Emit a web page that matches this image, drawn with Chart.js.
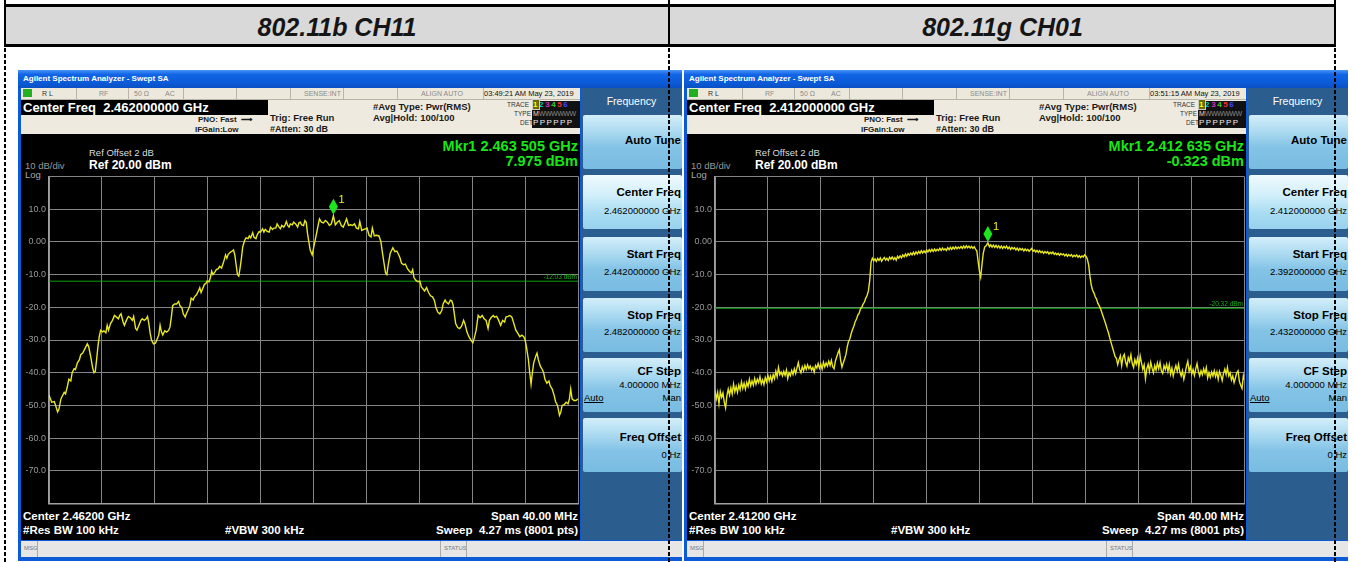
<!DOCTYPE html>
<html>
<head>
<meta charset="utf-8">
<title>802.11b CH11 / 802.11g CH01</title>
<script src="https://cdn.jsdelivr.net/npm/chart.js@4.4.1/dist/chart.umd.min.js"></script>
<style>
  html, body { margin: 0; padding: 0; background: #fff; }
  body { width: 1354px; height: 562px; position: relative; overflow: hidden;
         font-family: "Liberation Sans", Arial, sans-serif; }
  .hdr { position: absolute; top: 4px; height: 37px; background: #d9d9d9;
         border-top: 3px solid #000; border-bottom: 3px solid #000;
         font: italic bold 25px "Liberation Sans", Arial, sans-serif; color: #151515;
         text-align: center; line-height: 40px; }
  .vline { position: absolute; top: 0; width: 2px; height: 562px; z-index: 9;
           background: repeating-linear-gradient(to bottom, #000 0 4px, transparent 4px 6px); }
  .vsolid { position: absolute; top: 4px; width: 2px; height: 43px; background: #000; z-index: 10; }
  .sa { position: absolute; top: 70px; width: 664px; height: 491px; background: #0b5bd8; overflow: hidden; }
  .sa div { position: absolute; white-space: nowrap; }
  .tb { left: 0; top: 0; width: 664px; height: 18px;
        background: linear-gradient(#4a94f6 0%, #1165e6 25%, #0b5bd8 70%, #0a50c4 100%); }
  .tbt { left: 5px; top: 4px; font: bold 8px "Liberation Sans", Arial, sans-serif; color: #fff; }
  .st { left: 3px; top: 18px; width: 559px; height: 11px; background: #ece9dc; border-bottom: 1px solid #b8b4a8; }
  .st div { top: 1px; font-size: 7px; color: #8a8a8a; line-height: 9px; }
  .st .sep { top: 0; width: 1px; height: 11px; background: #b9b5aa; }
  .hd { left: 3px; top: 30px; width: 559px; height: 34px; background: #eeeadf; }
  .hd div { font-weight: bold; color: #1a1a1a; }
  .cf { left: 0; top: 0; width: 245px; height: 15px; background: #000; color: #fff !important;
        font-size: 13px; line-height: 15px; padding-left: 2px; }
  .dsp { left: 3px; top: 64px; width: 559px; height: 406px; background: #000; }
  .dsp div { color: #fff; }
  .sk { left: 563px; top: 18px; width: 101px; height: 452px; background: #2c5d8f; }
  .skh { left: 0; top: 7px; width: 101px; text-align: center; font-size: 10.5px; color: #fff; }
  .btn { left: 2px; width: 99px; height: 54px; border-radius: 2px;
         background: linear-gradient(#d3eef9 0%, #a6d7ef 35%, #83c3e6 60%, #79bce2 100%); }
  .btn.on { background: linear-gradient(#f0fafe 0%, #cfeefa 40%, #a9dcf2 70%, #98d2ee 100%); }
  .btn div { right: 1px; text-align: right; color: #000; }
  .bt { font: bold 11.5px "Liberation Sans", Arial, sans-serif; }
  .bv { font-size: 9.5px; }
  .msg { left: 3px; top: 471px; width: 661px; height: 16px; background: #e6e6e6; }
  .msg div { top: 4px; font-size: 6px; color: #777; }
  .msg .sep { top: 0; width: 1px; height: 16px; background: #aaa; }
  canvas { position: absolute; left: 3px; top: 98px; }
</style>
</head>
<body>

<div class="hdr" style="left:5px;width:664px;">802.11b CH11</div>
<div class="hdr" style="left:670px;width:665px;">802.11g CH01</div>

<div class="sa" id="saB" style="left:18px;"></div>
<div class="sa" id="saG" style="left:684px;"></div>

<div class="vline" style="left:4px;"></div>
<div class="vline" style="left:668px;"></div>
<div class="vline" style="left:1334px;"></div>
<div class="vsolid" style="left:4px;"></div>
<div class="vsolid" style="left:668px;"></div>
<div class="vsolid" style="left:1334px;"></div>

<script>
// spectrum traces as [frequency MHz, level dBm]
const traceB = [
  [2442.00,-46.8],[2442.20,-49.0],[2442.40,-48.8],[2442.50,-50.0],[2442.65,-52.0],[2442.75,-51.2],[2442.90,-48.0],
  [2443.00,-47.2],[2443.15,-46.0],[2443.25,-46.5],[2443.40,-44.0],[2443.50,-42.0],[2443.65,-42.5],[2443.75,-40.0],
  [2443.90,-38.8],[2444.00,-39.0],[2444.15,-37.0],[2444.30,-36.0],[2444.40,-34.5],[2444.55,-34.0],[2444.70,-32.8],
  [2444.90,-31.2],[2445.00,-32.0],[2445.15,-35.0],[2445.30,-38.5],[2445.40,-40.0],[2445.50,-39.6],[2445.60,-36.0],
  [2445.70,-32.0],[2445.80,-29.0],[2445.90,-27.0],[2446.05,-27.5],[2446.15,-27.2],[2446.30,-27.8],[2446.40,-25.5],
  [2446.50,-27.0],[2446.65,-25.0],[2446.80,-24.0],[2446.95,-22.5],[2447.10,-23.0],[2447.25,-23.5],[2447.35,-22.5],
  [2447.45,-22.0],[2447.60,-24.5],[2447.70,-25.5],[2447.85,-24.0],[2448.00,-22.8],[2448.15,-23.2],[2448.30,-24.0],
  [2448.40,-22.8],[2448.55,-26.5],[2448.65,-27.0],[2448.80,-25.5],[2448.95,-24.0],[2449.05,-23.5],[2449.20,-24.0],
  [2449.35,-23.5],[2449.45,-22.8],[2449.55,-25.0],[2449.65,-28.0],[2449.75,-30.0],[2449.90,-31.2],[2450.05,-31.0],
  [2450.15,-30.0],[2450.30,-28.5],[2450.40,-25.5],[2450.50,-27.5],[2450.60,-28.5],[2450.75,-27.2],[2450.90,-27.6],
  [2451.05,-27.0],[2451.15,-26.0],[2451.25,-23.0],[2451.35,-19.5],[2451.50,-19.0],[2451.65,-19.0],[2451.80,-18.2],
  [2451.90,-19.5],[2452.05,-20.2],[2452.15,-22.0],[2452.30,-23.0],[2452.40,-21.8],[2452.50,-21.0],[2452.65,-19.5],
  [2452.75,-17.2],[2452.90,-17.8],[2453.00,-16.8],[2453.15,-16.2],[2453.30,-15.0],[2453.40,-14.0],[2453.50,-15.5],
  [2453.60,-14.5],[2453.75,-13.0],[2453.85,-12.8],[2453.95,-12.0],[2454.10,-12.2],[2454.20,-11.0],[2454.30,-9.0],
  [2454.40,-10.0],[2454.55,-9.2],[2454.65,-8.5],[2454.80,-8.2],[2454.90,-7.5],[2455.05,-8.0],[2455.15,-6.8],
  [2455.25,-5.5],[2455.35,-4.0],[2455.45,-5.0],[2455.55,-3.8],[2455.70,-3.2],[2455.85,-2.8],[2455.95,-2.5],
  [2456.05,-4.0],[2456.15,-7.0],[2456.25,-10.0],[2456.35,-10.5],[2456.45,-8.0],[2456.55,-5.0],[2456.65,-1.5],
  [2456.80,0.5],[2456.90,1.2],[2457.05,1.0],[2457.15,1.8],[2457.25,1.2],[2457.40,2.8],[2457.50,1.4],
  [2457.65,1.0],[2457.75,2.2],[2457.90,3.2],[2458.00,3.0],[2458.15,4.0],[2458.25,3.0],[2458.35,3.8],
  [2458.50,3.2],[2458.65,3.0],[2458.75,4.5],[2458.90,3.8],[2459.00,4.2],[2459.15,4.2],[2459.25,5.5],
  [2459.40,4.5],[2459.50,4.0],[2459.60,5.0],[2459.75,4.5],[2459.85,5.2],[2459.95,6.2],[2460.05,5.0],
  [2460.15,4.5],[2460.25,5.5],[2460.40,5.2],[2460.50,6.0],[2460.65,5.5],[2460.80,4.5],[2460.90,5.8],
  [2461.00,6.0],[2461.10,5.2],[2461.25,5.0],[2461.35,6.5],[2461.45,6.0],[2461.55,2.5],[2461.65,0.0],
  [2461.75,-2.5],[2461.90,-4.0],[2462.05,-1.0],[2462.15,1.0],[2462.30,4.0],[2462.45,7.0],[2462.60,6.0],
  [2462.75,5.8],[2462.90,6.5],[2463.05,6.0],[2463.20,5.0],[2463.35,5.5],[2463.505,7.975],[2463.65,5.2],
  [2463.80,6.0],[2463.95,6.5],[2464.10,5.0],[2464.25,4.5],[2464.40,6.0],[2464.50,7.0],[2464.65,5.0],
  [2464.80,5.2],[2464.95,5.0],[2465.10,5.5],[2465.25,4.2],[2465.40,4.0],[2465.50,6.2],[2465.65,3.5],
  [2465.80,3.8],[2465.95,4.0],[2466.05,4.2],[2466.20,2.0],[2466.35,1.5],[2466.45,4.2],[2466.60,1.8],
  [2466.75,2.0],[2466.95,1.8],[2467.10,0.0],[2467.20,-3.0],[2467.35,-7.0],[2467.45,-9.5],[2467.55,-10.0],
  [2467.65,-7.0],[2467.80,-3.5],[2468.00,-1.8],[2468.15,-3.0],[2468.30,-2.8],[2468.45,-4.0],[2468.55,-5.0],
  [2468.65,-6.5],[2468.80,-7.0],[2468.95,-6.8],[2469.10,-8.2],[2469.25,-9.0],[2469.40,-9.5],[2469.50,-8.5],
  [2469.60,-11.0],[2469.75,-11.8],[2469.90,-12.2],[2470.05,-12.0],[2470.15,-13.8],[2470.30,-14.5],[2470.40,-15.0],
  [2470.55,-14.0],[2470.70,-15.5],[2470.85,-16.5],[2471.00,-16.8],[2471.15,-18.0],[2471.25,-20.0],[2471.40,-21.5],
  [2471.55,-22.0],[2471.70,-21.0],[2471.80,-19.0],[2471.95,-17.8],[2472.05,-18.5],[2472.20,-19.0],[2472.35,-17.8],
  [2472.45,-18.0],[2472.55,-19.2],[2472.65,-22.0],[2472.75,-25.0],[2472.90,-26.2],[2473.05,-26.5],[2473.20,-25.8],
  [2473.35,-24.0],[2473.45,-25.0],[2473.60,-27.5],[2473.75,-29.0],[2473.90,-30.0],[2474.05,-30.8],[2474.15,-29.5],
  [2474.30,-27.0],[2474.45,-22.5],[2474.60,-23.2],[2474.75,-22.5],[2474.90,-23.5],[2475.05,-24.0],[2475.20,-26.5],
  [2475.30,-24.0],[2475.45,-23.0],[2475.60,-22.5],[2475.70,-23.0],[2475.85,-22.8],[2476.00,-24.0],[2476.15,-25.5],
  [2476.30,-24.0],[2476.45,-24.5],[2476.55,-23.0],[2476.70,-22.8],[2476.85,-22.5],[2477.00,-23.0],[2477.15,-25.0],
  [2477.30,-27.0],[2477.45,-28.0],[2477.60,-29.0],[2477.75,-28.5],[2477.90,-29.0],[2478.00,-30.0],[2478.10,-32.0],
  [2478.25,-36.0],[2478.35,-40.0],[2478.45,-43.5],[2478.55,-40.0],[2478.65,-37.0],[2478.80,-35.0],[2478.90,-34.0],
  [2479.00,-36.0],[2479.15,-38.0],[2479.30,-39.0],[2479.40,-40.0],[2479.50,-42.0],[2479.65,-43.2],[2479.80,-42.5],
  [2479.90,-44.0],[2480.05,-45.0],[2480.20,-47.0],[2480.30,-48.8],[2480.45,-50.0],[2480.60,-53.0],[2480.70,-52.0],
  [2480.80,-50.0],[2480.95,-49.8],[2481.10,-49.0],[2481.25,-49.5],[2481.35,-48.0],[2481.45,-45.0],[2481.55,-48.0],
  [2481.70,-48.5],[2481.85,-48.5],[2482.00,-48.0]
];

const traceG = [
  [2392.00,-45.5],[2392.10,-48.0],[2392.20,-46.0],[2392.30,-49.5],[2392.40,-45.8],[2392.50,-47.5],[2392.60,-46.2],
  [2392.70,-49.0],[2392.80,-50.8],[2392.90,-47.0],[2393.00,-45.0],[2393.10,-46.8],[2393.20,-44.6],[2393.30,-46.5],
  [2393.40,-43.5],[2393.50,-45.8],[2393.60,-44.2],[2393.70,-46.0],[2393.80,-43.8],[2393.90,-45.2],[2394.00,-42.8],
  [2394.10,-44.8],[2394.20,-43.2],[2394.30,-45.0],[2394.40,-43.0],[2394.50,-44.2],[2394.60,-42.0],[2394.70,-44.0],
  [2394.80,-42.5],[2394.90,-43.8],[2395.00,-41.8],[2395.10,-43.5],[2395.20,-42.0],[2395.30,-43.0],[2395.40,-41.2],
  [2395.50,-43.4],[2395.60,-42.2],[2395.70,-43.6],[2395.80,-41.5],[2395.90,-42.8],[2396.00,-40.8],[2396.10,-42.5],
  [2396.20,-41.0],[2396.30,-42.6],[2396.40,-40.6],[2396.50,-41.8],[2396.60,-39.5],[2396.70,-41.2],[2396.80,-38.4],
  [2396.90,-40.6],[2397.00,-39.8],[2397.10,-41.0],[2397.20,-39.6],[2397.30,-40.8],[2397.40,-39.2],[2397.50,-41.8],
  [2397.60,-40.0],[2397.70,-40.9],[2397.80,-39.3],[2397.90,-40.5],[2398.00,-38.8],[2398.10,-40.2],[2398.20,-38.5],
  [2398.30,-36.9],[2398.40,-39.0],[2398.50,-40.0],[2398.60,-38.2],[2398.70,-39.4],[2398.80,-37.8],[2398.90,-39.0],
  [2399.00,-37.6],[2399.10,-38.8],[2399.20,-38.0],[2399.30,-39.2],[2399.40,-38.4],[2399.50,-39.8],[2399.60,-37.8],
  [2399.70,-38.6],[2399.80,-37.2],[2399.90,-38.6],[2400.00,-37.4],[2400.10,-38.9],[2400.20,-36.8],[2400.30,-38.2],
  [2400.40,-37.0],[2400.50,-38.0],[2400.60,-36.5],[2400.70,-37.8],[2400.80,-36.2],[2400.90,-38.2],[2401.00,-38.8],
  [2401.10,-36.5],[2401.20,-35.2],[2401.30,-34.0],[2401.40,-33.0],[2401.50,-36.2],[2401.60,-38.3],[2401.70,-37.0],
  [2401.80,-35.8],[2401.90,-34.4],[2402.00,-32.0],[2402.10,-30.4],[2402.20,-29.6],[2402.30,-28.0],[2402.40,-26.8],
  [2402.50,-25.8],[2402.60,-24.4],[2402.70,-23.6],[2402.80,-22.4],[2402.90,-21.8],[2403.00,-20.5],[2403.10,-20.0],
  [2403.20,-19.0],[2403.30,-18.4],[2403.40,-17.2],[2403.50,-16.4],[2403.60,-15.0],[2403.70,-11.8],[2403.80,-6.2],
  [2403.90,-5.0],[2404.00,-5.8],[2404.10,-5.2],[2404.20,-6.0],[2404.30,-5.1],[2404.40,-5.7],[2404.50,-4.9],
  [2404.60,-5.9],[2404.70,-5.3],[2404.80,-4.8],[2404.90,-5.6],[2405.00,-5.0],[2405.10,-5.7],[2405.20,-4.7],
  [2405.30,-5.3],[2405.40,-4.6],[2405.50,-5.4],[2405.60,-4.8],[2405.70,-5.6],[2405.80,-4.4],[2405.90,-5.0],
  [2406.00,-4.3],[2406.10,-4.9],[2406.20,-4.0],[2406.30,-4.6],[2406.40,-3.7],[2406.50,-4.4],[2406.60,-3.6],
  [2406.70,-4.1],[2406.80,-3.4],[2406.90,-4.0],[2407.00,-3.2],[2407.10,-3.9],[2407.20,-3.1],[2407.30,-3.7],
  [2407.40,-2.9],[2407.50,-3.5],[2407.60,-2.7],[2407.70,-3.4],[2407.80,-2.8],[2407.90,-3.3],[2408.00,-2.5],
  [2408.10,-3.1],[2408.20,-2.4],[2408.30,-3.0],[2408.40,-2.3],[2408.50,-2.9],[2408.60,-2.2],[2408.70,-2.8],
  [2408.80,-2.3],[2408.90,-2.7],[2409.00,-2.0],[2409.10,-2.6],[2409.20,-1.9],[2409.30,-2.5],[2409.40,-2.1],
  [2409.50,-2.6],[2409.60,-1.8],[2409.70,-2.4],[2409.80,-1.7],[2409.90,-2.3],[2410.00,-1.6],[2410.10,-2.2],
  [2410.20,-1.5],[2410.30,-2.1],[2410.40,-1.6],[2410.50,-2.0],[2410.60,-1.4],[2410.70,-2.0],[2410.80,-1.3],
  [2410.90,-1.9],[2411.00,-1.2],[2411.10,-1.8],[2411.20,-1.3],[2411.30,-1.9],[2411.40,-1.4],[2411.50,-2.0],
  [2411.60,-1.5],[2411.70,-2.2],[2411.80,-2.8],[2411.90,-6.1],[2412.00,-9.1],[2412.09,-10.8],[2412.17,-7.6],
  [2412.28,-3.6],[2412.39,-1.6],[2412.50,-1.2],[2412.635,-0.323],[2412.75,-1.5],[2412.85,-0.9],[2412.95,-1.6],
  [2413.05,-1.0],[2413.15,-1.7],[2413.25,-1.1],[2413.35,-1.8],[2413.45,-1.2],[2413.55,-1.9],[2413.65,-1.3],
  [2413.75,-2.0],[2413.85,-1.4],[2413.95,-1.9],[2414.05,-1.3],[2414.15,-2.1],[2414.25,-1.6],[2414.35,-2.3],
  [2414.45,-1.7],[2414.55,-2.2],[2414.65,-1.8],[2414.75,-2.5],[2414.85,-1.9],[2414.95,-2.6],[2415.05,-2.0],
  [2415.15,-2.5],[2415.25,-2.1],[2415.35,-2.8],[2415.45,-2.2],[2415.55,-2.7],[2415.65,-2.3],[2415.75,-2.9],
  [2415.85,-2.4],[2415.95,-2.0],[2416.05,-2.9],[2416.15,-2.5],[2416.25,-3.1],[2416.35,-2.6],[2416.45,-3.2],
  [2416.55,-2.7],[2416.65,-3.3],[2416.75,-2.9],[2416.85,-3.5],[2416.95,-3.0],[2417.05,-3.4],[2417.15,-3.0],
  [2417.25,-3.7],[2417.35,-3.2],[2417.45,-3.6],[2417.55,-3.1],[2417.65,-3.8],[2417.75,-3.4],[2417.85,-3.9],
  [2417.95,-3.5],[2418.05,-4.1],[2418.15,-3.6],[2418.25,-4.0],[2418.35,-3.7],[2418.45,-4.3],[2418.55,-3.8],
  [2418.65,-4.4],[2418.75,-3.9],[2418.85,-4.3],[2418.95,-3.9],[2419.05,-4.6],[2419.15,-4.1],[2419.25,-4.5],
  [2419.35,-4.0],[2419.45,-4.7],[2419.55,-4.2],[2419.65,-4.8],[2419.75,-4.3],[2419.85,-4.6],[2419.95,-4.0],
  [2420.05,-4.4],[2420.15,-5.2],[2420.26,-7.2],[2420.35,-10.5],[2420.45,-13.2],[2420.55,-14.8],[2420.65,-15.6],
  [2420.75,-16.8],[2420.85,-17.5],[2420.95,-18.8],[2421.05,-19.5],[2421.15,-20.4],[2421.25,-21.6],[2421.35,-22.8],
  [2421.45,-24.0],[2421.55,-25.2],[2421.65,-26.6],[2421.75,-27.8],[2421.85,-29.4],[2421.95,-30.8],[2422.05,-32.2],
  [2422.15,-33.6],[2422.25,-35.0],[2422.35,-35.6],[2422.45,-37.5],[2422.55,-36.0],[2422.65,-34.8],[2422.75,-37.8],
  [2422.85,-35.2],[2422.95,-34.4],[2423.05,-36.8],[2423.15,-38.0],[2423.25,-35.4],[2423.35,-36.6],[2423.45,-34.5],
  [2423.55,-37.2],[2423.65,-38.4],[2423.75,-36.0],[2423.85,-37.4],[2423.95,-35.6],[2424.05,-38.2],[2424.15,-34.9],
  [2424.25,-37.0],[2424.35,-39.0],[2424.45,-37.6],[2424.55,-41.8],[2424.65,-38.8],[2424.75,-37.4],[2424.85,-39.6],
  [2424.95,-36.8],[2425.05,-38.6],[2425.15,-40.0],[2425.25,-37.8],[2425.35,-39.2],[2425.45,-37.0],[2425.55,-38.8],
  [2425.65,-36.9],[2425.75,-39.4],[2425.85,-40.2],[2425.95,-37.8],[2426.05,-39.0],[2426.15,-37.4],[2426.25,-39.6],
  [2426.35,-37.5],[2426.45,-40.4],[2426.55,-38.6],[2426.65,-41.0],[2426.75,-39.2],[2426.85,-37.8],[2426.95,-39.5],
  [2427.05,-37.4],[2427.15,-39.8],[2427.25,-41.0],[2427.35,-39.4],[2427.45,-42.0],[2427.55,-40.2],[2427.65,-38.0],
  [2427.75,-36.5],[2427.85,-39.6],[2427.95,-38.2],[2428.05,-40.4],[2428.15,-39.0],[2428.25,-40.8],[2428.35,-38.8],
  [2428.45,-37.2],[2428.55,-39.6],[2428.65,-41.0],[2428.75,-39.4],[2428.85,-40.6],[2428.95,-38.8],[2429.05,-40.2],
  [2429.15,-38.4],[2429.25,-41.6],[2429.35,-40.0],[2429.45,-41.4],[2429.55,-39.8],[2429.65,-41.0],[2429.75,-39.4],
  [2429.85,-41.2],[2429.95,-39.8],[2430.05,-42.0],[2430.15,-39.6],[2430.25,-40.8],[2430.35,-42.4],[2430.45,-40.2],
  [2430.55,-38.9],[2430.65,-40.6],[2430.75,-38.4],[2430.85,-41.0],[2430.95,-40.0],[2431.05,-42.2],[2431.15,-41.0],
  [2431.25,-43.0],[2431.35,-41.6],[2431.45,-40.0],[2431.55,-39.4],[2431.65,-42.6],[2431.75,-43.8],[2431.85,-44.8],
  [2431.95,-41.0],[2432.00,-42.2]
];

// sweep settings (MHz), marker and display line per screen
const spanB = [2442, 2482];
const spanG = [2392, 2432];
const markerB = [2463.505, 7.975];
const markerG = [2412.635, -0.323];
const dispLineB = -12.03;
const dispLineG = -20.32;
const timeB = '03:49:21 AM May 23, 2019';
const timeG = '03:51:15 AM May 23, 2019';

// amplitude scale: ref 20 dBm, 10 dB/div
const refLevel = 20;
const dbPerDiv = 10;

function ghz(mhz, digits) { return (mhz / 1000).toFixed(digits) + ' GHz'; }
function mkrText(mhz) {
  const s = (mhz / 1000).toFixed(6);
  return s.slice(0, 5) + ' ' + s.slice(5) + ' GHz';
}

function screenHtml(id, span, marker, time) {
  const center = (span[0] + span[1]) / 2;
  const spanMhz = span[1] - span[0];
  return `
  <div class="tb"><div class="tbt">Agilent Spectrum Analyzer - Swept SA</div></div>
  <div class="st">
    <div style="left:2px;top:1px;width:9px;height:8px;background:#22b022;"></div>
    <div style="left:21px;color:#333;">R L</div>
    <div class="sep" style="left:55px;"></div>
    <div style="left:78px;">RF</div>
    <div class="sep" style="left:107px;"></div>
    <div style="left:113px;">50 Ω</div>
    <div style="left:144px;">AC</div>
    <div class="sep" style="left:162px;"></div>
    <div class="sep" style="left:215px;"></div>
    <div class="sep" style="left:269px;"></div>
    <div style="left:283px;">SENSE:INT</div>
    <div class="sep" style="left:322px;"></div>
    <div class="sep" style="left:376px;"></div>
    <div style="left:400px;">ALIGN AUTO</div>
    <div class="sep" style="left:462px;"></div>
    <div style="left:463px;color:#111;font-size:7.5px;">${time}</div>
  </div>
  <div class="hd">
    <div class="cf">Center Freq&nbsp; ${ghz(center, 9)}</div>
    <div style="left:177px;top:15px;font-size:8px;">PNO: Fast &nbsp;⟶</div>
    <div style="left:174px;top:25px;font-size:8px;">IFGain:Low</div>
    <div style="left:249px;top:12px;font-size:9.5px;">Trig: Free Run</div>
    <div style="left:249px;top:24px;font-size:9px;">#Atten: 30 dB</div>
    <div style="left:352px;top:1px;font-size:9.5px;">#Avg Type: Pwr(RMS)</div>
    <div style="left:352px;top:12px;font-size:9.5px;">Avg|Hold: 100/100</div>
    <div style="left:486px;top:1px;font-size:6.5px;font-weight:normal;color:#333;">TRACE</div>
    <div style="left:493px;top:10px;font-size:6.5px;font-weight:normal;color:#333;">TYPE</div>
    <div style="left:499px;top:19px;font-size:6.5px;font-weight:normal;color:#333;">DET</div>
    <div style="left:511px;top:1px;width:48px;height:27px;background:#111;"></div>
    <div style="left:512px;top:0px;font-size:8px;letter-spacing:1.6px;">
      <span style="background:#6a6a00;color:#ff0;outline:1px solid #ccc;">1</span><span style="color:#0cc;">2</span><span style="color:#c3c;">3</span><span style="color:#3c3;">4</span><span style="color:#e33;">5</span><span style="color:#44f;">6</span></div>
    <div style="left:512px;top:10px;font-size:7px;font-weight:normal;color:#ddd;">M<span style="color:#888;letter-spacing:-0.5px;">WWWWWW</span></div>
    <div style="left:512px;top:18px;font-size:8px;font-weight:normal;color:#eee;letter-spacing:1.4px;">PPPPPP</div>
  </div>
  <div class="dsp">
    <div style="left:68px;top:13px;font-size:9.5px;color:#ddd;">Ref Offset 2 dB</div>
    <div style="left:68px;top:24px;font-size:12px;font-weight:bold;">Ref ${refLevel.toFixed(2)} dBm</div>
    <div style="left:4px;top:26px;font-size:9.5px;color:#999;">${dbPerDiv} dB/div</div>
    <div style="left:4px;top:35px;font-size:9.5px;color:#aaa;">Log</div>
    <div style="right:2px;top:4px;font-size:14.5px;font-weight:bold;color:#19e619;">Mkr1 ${mkrText(marker[0])}</div>
    <div style="right:2px;top:19px;font-size:14.5px;font-weight:bold;color:#19e619;">${marker[1].toFixed(3)} dBm</div>
    <div style="left:2px;top:376px;font-size:11.5px;font-weight:bold;">Center ${ghz(center, 5)}</div>
    <div style="right:2px;top:376px;font-size:11.5px;font-weight:bold;">Span ${spanMhz.toFixed(2)} MHz</div>
    <div style="left:2px;top:390px;font-size:11.5px;font-weight:bold;">#Res BW 100 kHz</div>
    <div style="left:204px;top:390px;font-size:11.5px;font-weight:bold;">#VBW 300 kHz</div>
    <div style="right:2px;top:390px;font-size:11.5px;font-weight:bold;">Sweep&nbsp; 4.27 ms (8001 pts)</div>
  </div>
  <div class="sk">
    <div class="skh">Frequency</div>
    <div class="btn" style="top:27px;"><div class="bt" style="top:19px;">Auto Tune</div></div>
    <div class="btn on" style="top:87px;"><div class="bt" style="top:11px;">Center Freq</div><div class="bv" style="top:30px;">${ghz(center, 9)}</div></div>
    <div class="btn" style="top:149px;"><div class="bt" style="top:11px;">Start Freq</div><div class="bv" style="top:29px;">${ghz(span[0], 9)}</div></div>
    <div class="btn" style="top:210px;"><div class="bt" style="top:11px;">Stop Freq</div><div class="bv" style="top:28px;">${ghz(span[1], 9)}</div></div>
    <div class="btn" style="top:270px;"><div class="bt" style="top:7px;">CF Step</div><div class="bv" style="top:21px;">${(spanMhz / 10).toFixed(6)} MHz</div>
      <div class="bv" style="left:1px;right:auto;top:34px;text-decoration:underline;">Auto</div><div class="bv" style="top:34px;">Man</div></div>
    <div class="btn" style="top:330px;"><div class="bt" style="top:13px;">Freq Offset</div><div class="bv" style="top:31px;">0 Hz</div></div>
  </div>
  <div class="msg">
    <div style="left:3px;">MSG</div>
    <div class="sep" style="left:16px;"></div>
    <div class="sep" style="left:419px;"></div>
    <div style="left:423px;">STATUS</div>
    <div class="sep" style="left:445px;"></div>
  </div>
  <canvas id="${id}" width="559" height="344"></canvas>`;
}

// green marker diamond plus the display-line readout
const markerPlugin = {
  id: 'saMarker',
  afterDatasetsDraw(chart, args, opts) {
    const { ctx, scales: { x, y } } = chart;
    const px = x.getPixelForValue(opts.freq);
    const py = y.getPixelForValue(opts.level) - 1;
    ctx.save();
    ctx.fillStyle = '#1ee61e';
    ctx.beginPath();
    ctx.moveTo(px, py);
    ctx.lineTo(px + 4.5, py - 8);
    ctx.lineTo(px, py - 16);
    ctx.lineTo(px - 4.5, py - 8);
    ctx.closePath();
    ctx.fill();
    ctx.fillStyle = '#f0f020';
    ctx.font = '11px "Liberation Sans", Arial, sans-serif';
    ctx.fillText('1', px + 5, py - 12);
    const dy = y.getPixelForValue(opts.dl);
    ctx.fillStyle = '#10b410';
    ctx.font = '6.5px "Liberation Sans", Arial, sans-serif';
    ctx.textAlign = 'right';
    ctx.fillText(opts.dl.toFixed(2) + ' dBm', x.right - 1, dy - 2);
    ctx.restore();
  }
};

function makeChart(id, trace, span, marker, dl) {
  const gridColor = '#858585';
  return new Chart(document.getElementById(id), {
    type: 'line',
    data: {
      datasets: [
        {
          data: trace.map(p => ({ x: p[0], y: p[1] })),
          borderColor: '#e8e81e',
          borderWidth: 1.4,
          pointRadius: 0,
          order: 0
        },
        {
          data: [{ x: span[0], y: dl }, { x: span[1], y: dl }],
          borderColor: '#0aa00a',
          borderWidth: 1,
          pointRadius: 0,
          order: 1
        }
      ]
    },
    options: {
      responsive: false,
      animation: false,
      devicePixelRatio: 1,
      layout: { autoPadding: false, padding: { left: 0, right: 2, top: 7, bottom: 4 } },
      plugins: {
        legend: { display: false },
        tooltip: { enabled: false },
        saMarker: { freq: marker[0], level: marker[1], dl: dl }
      },
      scales: {
        x: {
          type: 'linear',
          min: span[0],
          max: span[1],
          ticks: { display: false, stepSize: (span[1] - span[0]) / 10 },
          grid: { color: gridColor, lineWidth: 1, drawTicks: false },
          border: { color: '#a0a0a0', width: 1.5 },
          afterFit(s) { s.height = 0; }
        },
        y: {
          min: refLevel - 10 * dbPerDiv,
          max: refLevel,
          ticks: {
            stepSize: dbPerDiv,
            padding: 3,
            color: '#9a9a9a',
            font: { size: 9, family: '"Liberation Sans", Arial, sans-serif' },
            callback: v => (v === refLevel || v === refLevel - 10 * dbPerDiv) ? '' : (v === 0 ? '0.00' : v.toFixed(1))
          },
          grid: { color: gridColor, lineWidth: 1, drawTicks: false },
          border: { color: '#a0a0a0', width: 1.5 },
          afterFit(s) { s.width = 28; }
        }
      }
    },
    plugins: [markerPlugin]
  });
}

document.getElementById('saB').innerHTML = screenHtml('chartB', spanB, markerB, timeB);
document.getElementById('saG').innerHTML = screenHtml('chartG', spanG, markerG, timeG);
makeChart('chartB', traceB, spanB, markerB, dispLineB);
makeChart('chartG', traceG, spanG, markerG, dispLineG);
</script>
</body>
</html>
